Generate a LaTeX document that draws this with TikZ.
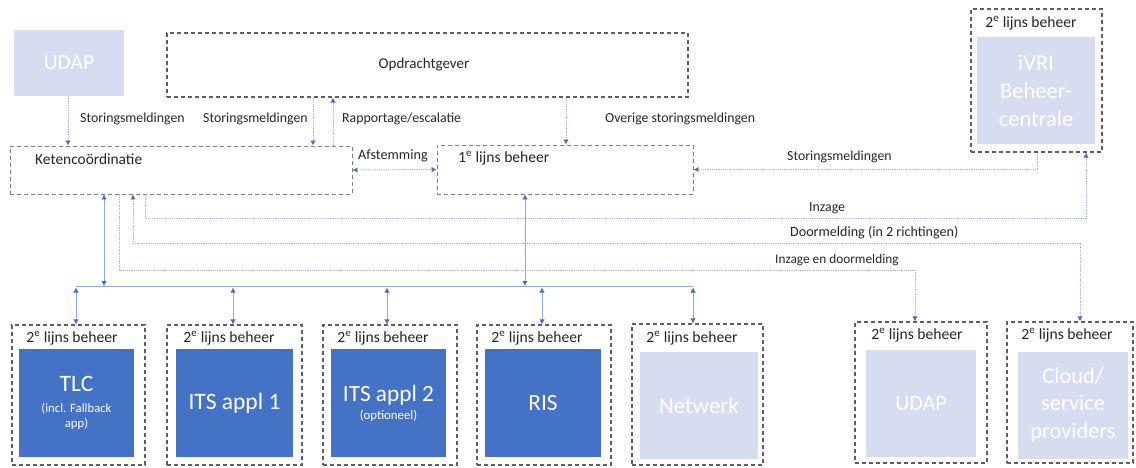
\documentclass[tikz,border=0pt]{standalone}
\usepackage{fontspec}
\setmainfont{Carlito}
\usetikzlibrary{arrows.meta,calc}
\definecolor{dkblue}{HTML}{4472C4}
\definecolor{ltblue}{HTML}{D6DDF0}
\definecolor{boxline}{HTML}{5E5E5E}
\definecolor{conncol}{HTML}{8EA9DB}
\definecolor{dotcol}{HTML}{A3B5DC}
\definecolor{tipcol}{HTML}{4A6EBE}
\definecolor{txtcol}{HTML}{262626}
\begin{document}
\begin{tikzpicture}[x=1pt,y=-1pt,
  >={Latex[length=5pt,width=5.5pt,color=tipcol]},
  dbox/.style={draw=boxline,line width=1.1pt,dash pattern=on 4pt off 3pt,rectangle,inner sep=0pt},
  lbox/.style={draw=boxline!80,line width=0.9pt,dash pattern=on 4pt off 3pt,rectangle,inner sep=0pt},
  fbox/.style={fill=#1,rectangle,inner sep=0pt,text=white,align=center,font=\fontsize{22.5}{28}\selectfont},
  conn/.style={draw=conncol,line width=0.8pt},
  dconn/.style={draw=dotcol,line width=0.9pt,dash pattern=on 1.2pt off 1pt},
  lbl/.style={inner sep=0pt,anchor=west,text=txtcol,font=\fontsize{13.8}{15}\selectfont},
  sec/.style={inner sep=0pt,text=txtcol,font=\fontsize{15.6}{17}\selectfont}
]
\useasboundingbox (0,0) rectangle (1136,468);
\fill[white] (0,0) rectangle (1136,468);

% top row
\node[fbox=ltblue,minimum width=110pt,minimum height=66pt,font=\fontsize{21.5}{26}\selectfont] (udapT) at (69,63) {UDAP};
\node[dbox,minimum width=521pt,minimum height=64pt] (opd) at (427.5,65) {};
\node[inner sep=0pt,text=txtcol,font=\fontsize{15}{17}\selectfont] (opdT) at (424,65) {Opdrachtgever};

\node[lbox,minimum width=342pt,minimum height=48pt] (ket) at (181,170) {};
\node[inner sep=0pt,anchor=west,text=txtcol,font=\fontsize{15.4}{17}\selectfont] (ketT) at (35,159) {Ketencoördinatie};

\node[lbox,minimum width=256pt,minimum height=49pt] (lijn1) at (565,169.5) {};
\node[inner sep=0pt,anchor=west,text=txtcol,font=\fontsize{15.6}{17}\selectfont] (lijn1T) at (458,158) {1\textsuperscript{e} lijns beheer};

\node[dbox,minimum width=131pt,minimum height=143pt] (ivriO) at (1036.5,80.5) {};
\node[sec] (ivriL) at (1031,23) {2\textsuperscript{e} lijns beheer};
\node[fbox=ltblue,minimum width=118pt,minimum height=107pt] (ivriI) at (1036,91) {iVRI\\Beheer-\\centrale};

% bottom row
\node[dbox,minimum width=133pt,minimum height=140pt] (tlcO) at (78.5,395) {};
\node[sec] (tlcL) at (72,338) {2\textsuperscript{e} lijns beheer};
\node[fbox=dkblue,minimum width=115pt,minimum height=108pt,font=\fontsize{12.7}{15}\selectfont] (tlcI) at (76.5,403)
  {{\fontsize{23.5}{26}\selectfont TLC}\\[6pt](incl. Fallback\\app)};

\node[dbox,minimum width=135pt,minimum height=140pt] (its1O) at (234.5,395) {};
\node[sec] (its1L) at (229,338) {2\textsuperscript{e} lijns beheer};
\node[fbox=dkblue,minimum width=117pt,minimum height=108pt,font=\fontsize{23.5}{26}\selectfont] (its1I) at (234.5,403) {ITS appl 1};

\node[dbox,minimum width=134pt,minimum height=140pt] (its2O) at (390,395) {};
\node[sec] (its2L) at (383,338) {2\textsuperscript{e} lijns beheer};
\node[fbox=dkblue,minimum width=115pt,minimum height=108pt,font=\fontsize{12.8}{15}\selectfont] (its2I) at (388.5,403)
  {{\fontsize{23.3}{26}\selectfont ITS appl 2}\\[3pt](optioneel)};

\node[dbox,minimum width=134pt,minimum height=140pt] (risO) at (544,395) {};
\node[sec] (risL) at (537,338) {2\textsuperscript{e} lijns beheer};
\node[fbox=dkblue,minimum width=116pt,minimum height=108pt,font=\fontsize{23.3}{26}\selectfont] (risI) at (543,403) {RIS};

\node[dbox,minimum width=131pt,minimum height=141pt] (netO) at (697.5,394.5) {};
\node[sec] (netL) at (692,338) {2\textsuperscript{e} lijns beheer};
\node[fbox=ltblue,minimum width=118pt,minimum height=107pt,font=\fontsize{22.9}{26}\selectfont] (netI) at (699,405.5) {Netwerk};

\node[dbox,minimum width=132pt,minimum height=141pt] (udapBO) at (921,392.5) {};
\node[sec] (udapBL) at (917,335) {2\textsuperscript{e} lijns beheer};
\node[fbox=ltblue,minimum width=110pt,minimum height=107pt,font=\fontsize{22}{26}\selectfont] (udapBI) at (921,403.5) {UDAP};

\node[dbox,minimum width=126pt,minimum height=141pt] (cloudO) at (1070,392.5) {};
\node[sec] (cloudL) at (1067,335) {2\textsuperscript{e} lijns beheer};
\node[fbox=ltblue,minimum width=110pt,minimum height=107pt,font=\fontsize{22.4}{27.5}\selectfont] (cloudI) at (1073,405) {Cloud/\\service\\providers};

% helper coordinates
\coordinate (x68) at (68,0);
\coordinate (x313) at (313,0);
\coordinate (x333) at (333,0);
\coordinate (x566) at (566,0);
\coordinate (x1037) at (1037,0);
\coordinate (x104) at (104,0);
\coordinate (x525) at (525,0);
\coordinate (inzA) at (145,218);
\coordinate (inzB) at (1086,218);
\coordinate (doorA) at (133,243);
\coordinate (doorB) at (1080,243);
\coordinate (ienA) at (119,270);
\coordinate (ienB) at (915,270);
\coordinate (busL) at (76,286);
\coordinate (busR) at (693,286);
\coordinate (b233) at (233,286);
\coordinate (b387) at (387,286);
\coordinate (b542) at (542,286);

% dotted connectors
\draw[dconn,->] (udapT.south -| x68) -- (ket.north -| x68);
\draw[dconn,->] (opd.south -| x313) -- (ket.north -| x313);
\draw[dconn,->] (ket.north -| x333) -- (opd.south -| x333);
\draw[dconn,->] (opd.south -| x566) -- (lijn1.north -| x566);
\draw[dconn,<->] (ket.east) -- (lijn1.west);
\draw[dconn,->] (ivriO.south -| x1037) |- (lijn1.east);
\draw[dconn,->] (ket.south -| inzA) -- (inzA) -- (inzB) -- (ivriO.south -| inzB);
\draw[dconn,<->] (ket.south -| doorA) -- (doorA) -- (doorB) -- (cloudO.north -| doorB);
\draw[dconn,->] (ket.south -| ienA) -- (ienA) -- (ienB) -- (udapBO.north -| ienB);

% solid bus
\draw[conn] (busL) -- (busR);
\draw[conn,<->] (ket.south -| x104) -- (busL -| x104);
\draw[conn,<->] (lijn1.south -| x525) -- (busL -| x525);
\draw[conn,<->] ([yshift=-1.5pt]busL) -- (tlcO.north -| busL);
\draw[conn,<->] ([yshift=-1.5pt]b233) -- (its1O.north -| b233);
\draw[conn,<->] ([yshift=-1.5pt]b387) -- (its2O.north -| b387);
\draw[conn,<->] ([yshift=-1.5pt]b542) -- (risO.north -| b542);
\draw[conn,<->] ([yshift=-1.5pt]busR) -- (netO.north -| busR);

% labels
\node[lbl] (l1) at (80,119) {Storingsmeldingen};
\node[lbl] (l2) at (203,119) {Storingsmeldingen};
\node[lbl] (l3) at (342,119) {Rapportage/escalatie};
\node[lbl] (l4) at (605,119) {Overige storingsmeldingen};
\node[lbl,font=\fontsize{14.2}{16}\selectfont] (l5) at (358,156) {Afstemming};
\node[lbl] (l6) at (787,157) {Storingsmeldingen};
\node[lbl] (l7) at (809,208) {Inzage};
\node[lbl,font=\fontsize{14.1}{16}\selectfont] (l8) at (790,233) {Doormelding (in 2 richtingen)};
\node[lbl,font=\fontsize{13.3}{15}\selectfont] (l9) at (775,260) {Inzage en doormelding};
\end{tikzpicture}
\end{document}
